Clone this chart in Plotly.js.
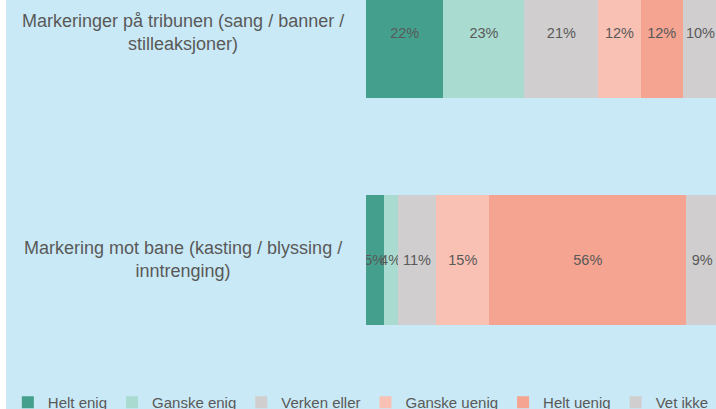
<!DOCTYPE html>
<html>
<head>
<meta charset="utf-8">
<script src="https://cdn.plot.ly/plotly-3.0.1.min.js"></script>
<style>
html,body{margin:0;padding:0;background:#ffffff;overflow:hidden;width:716px;height:409px;}
#chart{position:absolute;left:6px;top:0;width:710px;height:409px;}
</style>
</head>
<body>
<div id="chart"></div>
<script>
// Categories listed top to bottom
const categories = [
  "Markeringer på tribunen (sang / banner /<br>stilleaksjoner)",
  "Markering mot bane (kasting / blyssing /<br>inntrenging)"
];
const seriesNames = ["Helt enig", "Ganske enig", "Verken eller", "Ganske uenig", "Helt uenig", "Vet ikke"];
const helt_enig    = [22, 5];
const ganske_enig  = [23, 4];
const verken_eller = [21, 11];
const ganske_uenig = [12, 15];
const helt_uenig   = [12, 56];
const vet_ikke     = [10, 9];
const seriesValues = [helt_enig, ganske_enig, verken_eller, ganske_uenig, helt_uenig, vet_ikke];
const seriesColors = ["#44a08c", "#a9dbd0", "#d0cecf", "#f9c1b4", "#f5a491", "#d0cecf"];

const FONT = "Liberation Sans, Arial, sans-serif";
const TEXT_COLOR = "#595959";

const traces = seriesNames.map((name, i) => ({
  type: "bar",
  orientation: "h",
  name: name,
  y: categories.map((c, k) => k),
  x: seriesValues[i],
  width: 0.573,
  marker: {color: seriesColors[i], line: {width: 0}},
  text: seriesValues[i].map(v => v + "%"),
  textposition: "inside",
  insidetextanchor: "middle",
  textangle: 0,
  constraintext: "none",
  textfont: {family: FONT, size: 14.5, color: TEXT_COLOR},
  hoverinfo: "skip"
}));

const annotations = categories.map((c, k) => ({
  xref: "paper", yref: "y",
  x: -0.523, y: k,
  text: c,
  showarrow: false,
  xanchor: "center", yanchor: "middle",
  align: "center",
  font: {family: FONT, size: 18, color: TEXT_COLOR}
}));

const layout = {
  width: 710, height: 409,
  margin: {l: 360, r: 0, t: 0, b: 29, pad: 0, autoexpand: false},
  paper_bgcolor: "#c9e9f6",
  plot_bgcolor: "#c9e9f6",
  barmode: "stack",
  bargap: 0,
  showlegend: true,
  xaxis: {range: [0, 99.4], visible: false, fixedrange: true},
  yaxis: {type: "linear", range: [1.529, -0.145], visible: false, fixedrange: true},
  annotations: annotations,
  legend: {
    orientation: "h",
    x: -1.0233, xanchor: "left",
    y: -0.016, yanchor: "top",
    font: {family: FONT, size: 15, color: TEXT_COLOR},
    bgcolor: "rgba(0,0,0,0)",
    traceorder: "normal"
  }
};

Plotly.newPlot("chart", traces, layout, {displayModeBar: false, staticPlot: true});
</script>
</body>
</html>
